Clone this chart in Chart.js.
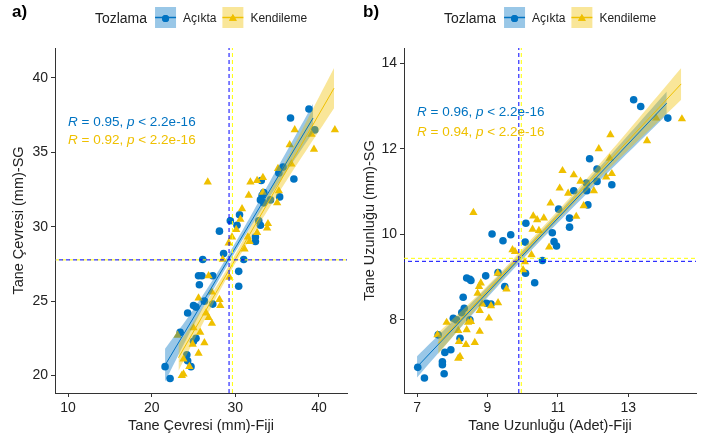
<!DOCTYPE html>
<html>
<head>
<meta charset="utf-8">
<script src="https://cdn.jsdelivr.net/npm/chart.js@4/dist/chart.umd.min.js"></script>
<style>
  body { margin: 0; background: #fff; width: 713px; height: 444px; position: relative; overflow: hidden; }
  canvas { position: absolute; top: 0; }
  #chartA { left: 0; }
  #chartB { left: 356px; }
</style>
</head>
<body>
<canvas id="chartA" width="356" height="444"></canvas>
<canvas id="chartB" width="357" height="444"></canvas>
<script>
const BLUE = '#0073C2';
const YELLOW = '#EFC000';
const BLUE_BAND = 'rgba(0,115,194,0.4)';
const YELLOW_BAND = 'rgba(239,192,0,0.4)';
const FONT = "'Liberation Sans', Arial, sans-serif";
const groups = ['Açıkta', 'Kendileme'];

// a) Tane Çevresi
const aXTicks = [10, 20, 30, 40];
const aYTicks = [20, 25, 30, 35, 40];
const aAcikX = [38.8, 36.6, 39.5, 35.7, 37.0, 35.3, 33.2, 33.4, 35.2, 33.0, 33.4, 33.1, 34.2, 30.5, 30.2, 29.4, 28.1, 32.8, 33.0, 32.4, 32.4, 28.6, 26.1, 31.0, 30.4, 25.6, 26.0, 27.3, 30.4, 25.7, 26.3, 25.0, 25.3, 24.3, 27.3, 23.4, 25.3, 25.0, 24.2, 24.3, 24.7, 21.6, 22.2];
const aAcikY = [37.9, 37.3, 36.5, 34.0, 33.2, 32.0, 32.1, 32.3, 33.6, 31.8, 31.6, 33.1, 31.8, 30.8, 30.1, 30.4, 29.7, 30.4, 30.1, 29.3, 29.0, 28.2, 27.8, 27.8, 27.0, 26.7, 26.7, 26.7, 26.0, 26.1, 25.0, 24.7, 24.6, 24.2, 24.8, 22.9, 22.5, 22.3, 21.4, 21.0, 20.6, 20.6, 19.8];
const aKendiX = [41.9, 37.1, 39.1, 36.5, 39.4, 36.7, 31.8, 32.6, 33.3, 31.6, 33.3, 35.2, 35.0, 35.1, 26.7, 30.8, 30.6, 30.1, 33.9, 33.8, 32.6, 29.6, 31.5, 31.7, 31.1, 29.2, 28.5, 29.3, 26.8, 25.6, 27.2, 28.1, 28.2, 26.5, 26.8, 27.2, 25.8, 23.1, 24.9, 26.3, 25.6, 23.8, 24.5, 23.8, 23.6, 25.0];
const aKendiY = [36.5, 36.5, 36.2, 35.5, 35.2, 34.2, 33.0, 33.1, 33.3, 32.1, 32.3, 32.4, 31.6, 33.9, 33.0, 31.2, 30.5, 29.8, 30.2, 29.9, 29.6, 29.3, 29.3, 29.0, 28.5, 28.9, 27.8, 26.6, 26.7, 25.2, 25.6, 25.1, 24.7, 24.2, 23.9, 23.5, 22.9, 22.7, 22.1, 22.2, 21.5, 21.1, 20.6, 20.1, 20.0, 23.2];
const aAcikFitX = [21.6, 39.3];
const aAcikFitY = [20.7, 37.3];
const aKendiFitX = [23.2, 41.8];
const aKendiFitY = [21.2, 39.3];
const aAcikBandX = [21.6, 25, 29.25, 34, 39.3];
const aAcikBandHi = [21.8, 24.45, 28.2, 32.9, 38.25];
const aAcikBandLo = [19.6, 23.35, 27.6, 31.9, 36.35];
const aKendiBandX = [23.2, 27, 29.65, 35, 41.8];
const aKendiBandHi = [22.1, 25.35, 27.8, 33.3, 40.65];
const aKendiBandLo = [20.3, 24.45, 27.2, 32.1, 37.95];
const aMeanX = [29.25, 29.65];
const aMeanY = [27.77, 27.77];
const aR = ['0.95', '0.92'];
const aRY = [37.03, 35.8];

// b) Tane Uzunluğu
const bXTicks = [7, 9, 11, 13];
const bYTicks = [8, 10, 12, 14];
const bAcikX = [13.15, 13.35, 14.12, 11.9, 12.11, 12.53, 12.11, 11.81, 11.45, 11.82, 11.85, 11.02, 11.33, 11.33, 10.09, 9.13, 9.44, 9.66, 10.07, 10.84, 10.89, 10.96, 10.56, 8.95, 9.3, 8.5, 10.08, 8.41, 8.53, 10.34, 8.31, 9.1, 8.97, 8.27, 8.34, 8.03, 8.12, 8.5, 7.6, 8.22, 7.96, 7.79, 7.72, 7.72, 7.02, 7.77, 7.21, 9.49];
const bAcikY = [13.15, 12.99, 12.72, 11.77, 11.53, 11.16, 11.24, 11.2, 11.02, 11.02, 10.69, 10.59, 10.38, 10.17, 10.26, 10.01, 9.85, 9.99, 9.82, 10.04, 9.83, 9.73, 9.39, 9.03, 9.11, 8.95, 9.09, 8.98, 8.92, 8.87, 8.53, 8.37, 8.39, 8.17, 8.27, 8.04, 8.0, 8.0, 7.65, 7.57, 7.3, 7.24, 7.02, 6.95, 6.89, 6.74, 6.64, 8.78];
const bKendiX = [14.52, 12.49, 13.53, 12.16, 11.13, 11.45, 12.53, 12.37, 11.64, 11.29, 11.05, 12.02, 13.79, 12.47, 8.6, 11.73, 10.79, 10.3, 10.41, 10.6, 11.52, 10.28, 10.46, 9.71, 10.75, 10.25, 10.01, 8.81, 8.76, 9.29, 9.54, 8.72, 8.85, 9.3, 9.1, 8.78, 9.04, 7.84, 8.53, 8.45, 8.41, 8.78, 8.17, 8.19, 7.58, 8.39, 8.64, 8.22, 8.17, 9.78, 10.06];
const bKendiY = [12.7, 12.33, 12.19, 12.0, 11.49, 11.39, 11.42, 11.34, 11.24, 10.96, 11.08, 11.02, 12.72, 11.78, 10.51, 10.67, 10.73, 10.43, 10.34, 10.38, 10.42, 10.12, 10.09, 9.64, 9.7, 9.52, 9.17, 8.86, 8.78, 9.09, 8.72, 8.62, 8.37, 8.4, 8.33, 8.22, 8.04, 7.94, 7.96, 7.94, 7.77, 7.73, 7.75, 7.49, 7.65, 7.42, 7.47, 7.14, 7.1, 9.6, 9.36];
const bAcikFitX = [7.0, 14.09];
const bAcikFitY = [6.9, 13.07];
const bKendiFitX = [7.6, 14.5];
const bKendiFitY = [7.45, 13.52];
const bAcikBandX = [7.0, 8.5, 9.89, 12, 14.09];
const bAcikBandHi = [7.15, 8.36, 9.52, 11.4, 13.34];
const bAcikBandLo = [6.65, 8.06, 9.32, 11.1, 12.8];
const bKendiBandX = [7.6, 9, 9.96, 12, 14.5];
const bKendiBandHi = [7.7, 8.8, 9.63, 11.47, 13.89];
const bKendiBandLo = [7.2, 8.56, 9.43, 11.17, 13.15];
const bMeanX = [9.89, 9.96];
const bMeanY = [9.37, 9.44];
const bR = ['0.96', '0.94'];
const bRY = [12.85, 12.4];

function pts(xs, ys) {
  return xs.map((x, i) => ({ x, y: ys[i] }));
}

function lineSet(data, color, extra) {
  return Object.assign({ data, showLine: true, borderColor: color, borderWidth: 1, pointRadius: 0, fill: false }, extra);
}

function pointSet(data, color, style, radius, order) {
  return { data, pointStyle: style, pointRadius: radius, backgroundColor: color, borderColor: color, borderWidth: 0, order };
}

const decor = {
  id: 'decor',
  afterDraw(chart, args, o) {
    const ctx = chart.ctx;
    const { x, y } = chart.scales;
    ctx.save();
    ctx.fillStyle = '#000';
    ctx.font = 'bold 17px ' + FONT;
    ctx.textBaseline = 'alphabetic';
    ctx.fillText(o.tag, o.tagX, 17);

    // R / p labels
    ctx.textBaseline = 'middle';
    o.r.forEach((r, i) => {
      let px = x.getPixelForValue(o.rX);
      const py = y.getPixelForValue(o.rY[i]);
      ctx.fillStyle = i === 0 ? BLUE : YELLOW;
      [['R', true], [' = ' + r + ', ', false], ['p', true], [' < 2.2e-16', false]].forEach(([t, it]) => {
        ctx.font = (it ? 'italic ' : '') + '13.5px ' + FONT;
        ctx.fillText(t, px, py);
        px += ctx.measureText(t).width;
      });
    });

    // legend
    ctx.font = '14px ' + FONT;
    const titleW = ctx.measureText('Tozlama').width;
    ctx.font = '12px ' + FONT;
    const w = groups.map((g) => ctx.measureText(g).width);
    const total = titleW + 8 + 21 + 7 + w[0] + 6 + 21 + 7 + w[1];
    let lx = (chart.chartArea.left + chart.chartArea.right) / 2 - total / 2;
    ctx.fillStyle = '#222';
    ctx.font = '14px ' + FONT;
    ctx.fillText('Tozlama', lx, 19);
    lx += titleW + 8;
    const keys = [[BLUE, BLUE_BAND, 'circle'], [YELLOW, YELLOW_BAND, 'triangle']];
    keys.forEach(([c, band, shape], i) => {
      ctx.fillStyle = band;
      ctx.fillRect(lx, 7, 21, 21);
      ctx.strokeStyle = c;
      ctx.lineWidth = 1.5;
      ctx.beginPath();
      ctx.moveTo(lx, 17.5);
      ctx.lineTo(lx + 21, 17.5);
      ctx.stroke();
      ctx.fillStyle = c;
      Chart.helpers.drawPoint(ctx, { pointStyle: shape, radius: shape === 'circle' ? 3.5 : 4.5, borderWidth: 0 }, lx + 10.5, 18.5);
      ctx.fill();
      lx += 21 + 7;
      ctx.fillStyle = '#222';
      ctx.font = '12px ' + FONT;
      ctx.fillText(groups[i], lx, 19);
      lx += w[i] + 6;
    });
    ctx.restore();
  }
};

function buildChart(id, p) {
  const datasets = [
    lineSet(pts(p.acikBandX, p.acikBandHi), 'transparent', { borderWidth: 0, fill: '+1', backgroundColor: BLUE_BAND, tension: 0.4, order: 3 }),
    lineSet(pts(p.acikBandX, p.acikBandLo), 'transparent', { borderWidth: 0, tension: 0.4, order: 3 }),
    lineSet(pts(p.kendiBandX, p.kendiBandHi), 'transparent', { borderWidth: 0, fill: '+1', backgroundColor: YELLOW_BAND, tension: 0.4, order: 2 }),
    lineSet(pts(p.kendiBandX, p.kendiBandLo), 'transparent', { borderWidth: 0, tension: 0.4, order: 2 }),
    lineSet(pts(p.acikFitX, p.acikFitY), BLUE, { order: 1 }),
    lineSet(pts(p.kendiFitX, p.kendiFitY), YELLOW, { order: 0 }),
    pointSet(pts(p.acikX, p.acikY), BLUE, 'circle', 3.8, 5),
    pointSet(pts(p.kendiX, p.kendiY), YELLOW, 'triangle', 4.8, 4),
    lineSet(pts([p.meanX[0], p.meanX[0]], [p.yMin, p.yMax]), '#0000FF', { borderDash: [4, 3], order: -1 }),
    lineSet(pts([p.meanX[1], p.meanX[1]], [p.yMin, p.yMax]), '#FFFF00', { borderDash: [4, 3], order: -1 }),
    lineSet(pts([p.xMin, p.xMax], [p.meanY[1], p.meanY[1]]), '#FFFF00', { borderDash: [4, 3], order: -1 }),
    lineSet(pts([p.xMin, p.xMax], [p.meanY[0], p.meanY[0]]), '#0000FF', { borderDash: [4, 3], borderDashOffset: 3, order: -2 }),
  ];
  const tickFont = { family: FONT, size: 14 };
  const titleFont = { family: FONT, size: 14.5 };
  return new Chart(document.getElementById(id), {
    type: 'scatter',
    data: { datasets },
    plugins: [decor],
    options: {
      responsive: false,
      animation: false,
      layout: { padding: { top: 48, right: p.padRight, left: 0, bottom: 0 } },
      plugins: {
        legend: { display: false },
        tooltip: { enabled: false },
        decor: { tag: p.tag, tagX: p.tagX, r: p.r, rX: p.rX, rY: p.rY },
      },
      scales: {
        x: {
          type: 'linear', min: p.xMin, max: p.xMax,
          afterBuildTicks: (s) => { s.ticks = p.xTicks.map((v) => ({ value: v })); },
          afterFit: (s) => { s.height = 51; },
          ticks: { color: '#222', font: tickFont, padding: 3, maxRotation: 0, autoSkip: false },
          grid: { drawOnChartArea: false, tickLength: 4, color: '#333' },
          border: { color: '#333', width: 1 },
          title: { display: true, text: p.xTitle, color: '#222', font: titleFont, padding: { top: 0, bottom: 9 } },
        },
        y: {
          type: 'linear', min: p.yMin, max: p.yMax,
          afterBuildTicks: (s) => { s.ticks = p.yTicks.map((v) => ({ value: v })); },
          afterFit: (s) => { s.width = p.yAxisW; },
          ticks: { color: '#222', font: tickFont, padding: 3, autoSkip: false },
          grid: { drawOnChartArea: false, tickLength: 4, color: '#333' },
          border: { color: '#333', width: 1 },
          title: { display: true, text: p.yTitle, color: '#222', font: titleFont, padding: { top: p.yTitlePad, bottom: 0 } },
        },
      },
    },
  });
}

buildChart('chartA', {
  tag: 'a)', tagX: 12, padRight: 9, yAxisW: 55, yTitlePad: 10,
  xMin: 8.44, xMax: 43.35, yMin: 18.83, yMax: 42.0,
  xTicks: aXTicks, yTicks: aYTicks,
  xTitle: 'Tane Çevresi (mm)-Fiji', yTitle: 'Tane Çevresi (mm)-SG',
  acikX: aAcikX, acikY: aAcikY, kendiX: aKendiX, kendiY: aKendiY,
  acikFitX: aAcikFitX, acikFitY: aAcikFitY, kendiFitX: aKendiFitX, kendiFitY: aKendiFitY,
  acikBandX: aAcikBandX, acikBandHi: aAcikBandHi, acikBandLo: aAcikBandLo,
  kendiBandX: aKendiBandX, kendiBandHi: aKendiBandHi, kendiBandLo: aKendiBandLo,
  meanX: aMeanX, meanY: aMeanY, r: aR, rX: 10, rY: aRY,
});

buildChart('chartB', {
  tag: 'b)', tagX: 7, padRight: 17, yAxisW: 48, yTitlePad: 5,
  xMin: 6.63, xMax: 14.92, yMin: 6.29, yMax: 14.36,
  xTicks: bXTicks, yTicks: bYTicks,
  xTitle: 'Tane Uzunluğu (Adet)-Fiji', yTitle: 'Tane Uzunluğu (mm)-SG',
  acikX: bAcikX, acikY: bAcikY, kendiX: bKendiX, kendiY: bKendiY,
  acikFitX: bAcikFitX, acikFitY: bAcikFitY, kendiFitX: bKendiFitX, kendiFitY: bKendiFitY,
  acikBandX: bAcikBandX, acikBandHi: bAcikBandHi, acikBandLo: bAcikBandLo,
  kendiBandX: bKendiBandX, kendiBandHi: bKendiBandHi, kendiBandLo: bKendiBandLo,
  meanX: bMeanX, meanY: bMeanY, r: bR, rX: 7, rY: bRY,
});
</script>
</body>
</html>
